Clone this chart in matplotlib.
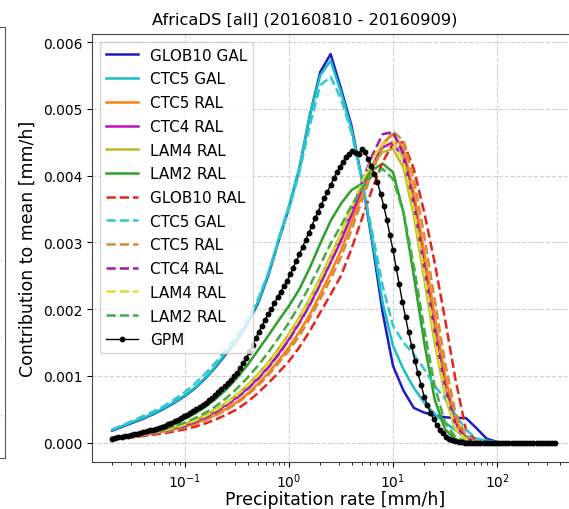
import numpy as np
import matplotlib
matplotlib.use("Agg")
import matplotlib.pyplot as plt

# ---------------- data ----------------
# model bin centres (log10 of precipitation rate, mm/h)
model_logx = [-1.7, -1.6, -1.5, -1.4, -1.3, -1.2, -1.1, -1.0, -0.9, -0.8,
              -0.7, -0.6, -0.5, -0.4, -0.3, -0.2, -0.1, 0.0, 0.1, 0.2,
              0.3, 0.4, 0.5, 0.6, 0.7, 0.8, 0.9, 1.0, 1.1, 1.2,
              1.3, 1.4, 1.5, 1.6, 1.7, 1.8, 1.9, 2.0]

glob10_gal = [0.00018, 0.00024, 0.00030, 0.00036, 0.00043, 0.00051, 0.00060, 0.00070, 0.00082, 0.00097,
              0.00114, 0.00134, 0.00153, 0.00178, 0.00208, 0.00250, 0.00302, 0.00352, 0.00410, 0.00490,
              0.00555, 0.00582, 0.00530, 0.00475, 0.00395, 0.00300, 0.00195, 0.00115, 0.00078, 0.00052,
              0.00045, 0.00041, 0.00038, 0.00037, 0.00037, 0.00022, 0.00006, 0.00001]
ctc5_gal = [0.00019, 0.00025, 0.00031, 0.00037, 0.00044, 0.00052, 0.00061, 0.00071, 0.00083, 0.00098,
            0.00115, 0.00136, 0.00154, 0.00180, 0.00210, 0.00252, 0.00305, 0.00355, 0.00412, 0.00490,
            0.00550, 0.00572, 0.00525, 0.00470, 0.00395, 0.00305, 0.00210, 0.00145, 0.00110, 0.00082,
            0.00060, 0.00043, 0.00030, 0.00019, 0.00010, 0.00006, 0.00003, 0.00001]
ctc5_ral = [0.00006, 0.00008, 0.00009, 0.00011, 0.00014, 0.00017, 0.00020, 0.00024, 0.00029, 0.00035,
            0.00042, 0.00051, 0.00061, 0.00073, 0.00088, 0.00104, 0.00123, 0.00143, 0.00166, 0.00192,
            0.00222, 0.00254, 0.00288, 0.00328, 0.00372, 0.00412, 0.00448, 0.00462, 0.00440, 0.00375,
            0.00285, 0.00190, 0.00100, 0.00035, 0.00008, 0.00002, 0.0, 0.0]
ctc4_ral = [0.00007, 0.00008, 0.00010, 0.00012, 0.00015, 0.00018, 0.00022, 0.00026, 0.00032, 0.00039,
            0.00047, 0.00057, 0.00068, 0.00081, 0.00096, 0.00113, 0.00133, 0.00155, 0.00180, 0.00207,
            0.00238, 0.00270, 0.00302, 0.00340, 0.00380, 0.00415, 0.00442, 0.00450, 0.00425, 0.00355,
            0.00260, 0.00165, 0.00080, 0.00025, 0.00005, 0.00001, 0.0, 0.0]
lam4_ral = [0.00007, 0.00008, 0.00010, 0.00013, 0.00015, 0.00019, 0.00023, 0.00028, 0.00034, 0.00041,
            0.00050, 0.00060, 0.00072, 0.00086, 0.00102, 0.00120, 0.00141, 0.00163, 0.00188, 0.00216,
            0.00247, 0.00280, 0.00313, 0.00350, 0.00385, 0.00415, 0.00435, 0.00440, 0.00412, 0.00340,
            0.00245, 0.00150, 0.00070, 0.00020, 0.00004, 0.00001, 0.0, 0.0]
lam2_ral = [0.00007, 0.00009, 0.00011, 0.00014, 0.00018, 0.00022, 0.00028, 0.00036, 0.00044, 0.00054,
            0.00066, 0.00080, 0.00097, 0.00116, 0.00138, 0.00160, 0.00183, 0.00205, 0.00230, 0.00262,
            0.00298, 0.00332, 0.00358, 0.00378, 0.00388, 0.00408, 0.00418, 0.00405, 0.00345, 0.00250,
            0.00150, 0.00065, 0.00020, 0.00005, 0.00001, 0.0, 0.0, 0.0]
glob10_ral_d = [0.00006, 0.00007, 0.00008, 0.00010, 0.00012, 0.00014, 0.00017, 0.00020, 0.00024, 0.00029,
                0.00035, 0.00042, 0.00050, 0.00061, 0.00074, 0.00089, 0.00105, 0.00122, 0.00143, 0.00167,
                0.00195, 0.00222, 0.00250, 0.00290, 0.00335, 0.00380, 0.00420, 0.00448, 0.00450, 0.00410,
                0.00345, 0.00270, 0.00185, 0.00095, 0.00020, 0.00003, 0.00001, 0.0]
ctc5_gal_d = [0.00020, 0.00026, 0.00033, 0.00040, 0.00047, 0.00055, 0.00065, 0.00076, 0.00089, 0.00104,
              0.00121, 0.00141, 0.00160, 0.00184, 0.00214, 0.00254, 0.00303, 0.00350, 0.00405, 0.00475,
              0.00535, 0.00548, 0.00515, 0.00465, 0.00395, 0.00315, 0.00235, 0.00175, 0.00150, 0.00132,
              0.00110, 0.00085, 0.00066, 0.00042, 0.00020, 0.00006, 0.00002, 0.0]
ctc5_ral_d = [0.00006, 0.00007, 0.00009, 0.00011, 0.00013, 0.00016, 0.00019, 0.00023, 0.00028, 0.00034,
              0.00041, 0.00049, 0.00059, 0.00071, 0.00085, 0.00101, 0.00119, 0.00138, 0.00160, 0.00186,
              0.00215, 0.00245, 0.00278, 0.00318, 0.00362, 0.00405, 0.00445, 0.00466, 0.00452, 0.00395,
              0.00310, 0.00215, 0.00120, 0.00045, 0.00010, 0.00002, 0.0, 0.0]
ctc4_ral_d = [0.00006, 0.00008, 0.00010, 0.00012, 0.00014, 0.00017, 0.00021, 0.00025, 0.00031, 0.00038,
              0.00046, 0.00056, 0.00067, 0.00080, 0.00095, 0.00112, 0.00132, 0.00154, 0.00179, 0.00206,
              0.00237, 0.00270, 0.00305, 0.00345, 0.00390, 0.00430, 0.00462, 0.00465, 0.00432, 0.00360,
              0.00265, 0.00170, 0.00085, 0.00028, 0.00006, 0.00001, 0.0, 0.0]
lam4_ral_d = [0.00007, 0.00008, 0.00010, 0.00012, 0.00015, 0.00018, 0.00022, 0.00027, 0.00033, 0.00040,
              0.00049, 0.00059, 0.00071, 0.00085, 0.00100, 0.00118, 0.00139, 0.00161, 0.00186, 0.00214,
              0.00245, 0.00278, 0.00312, 0.00350, 0.00390, 0.00425, 0.00448, 0.00452, 0.00422, 0.00350,
              0.00255, 0.00158, 0.00075, 0.00022, 0.00005, 0.00001, 0.0, 0.0]
lam2_ral_d = [0.00007, 0.00009, 0.00011, 0.00013, 0.00016, 0.00020, 0.00025, 0.00030, 0.00037, 0.00045,
              0.00055, 0.00067, 0.00081, 0.00097, 0.00115, 0.00135, 0.00157, 0.00180, 0.00206, 0.00235,
              0.00266, 0.00298, 0.00325, 0.00355, 0.00380, 0.00400, 0.00410, 0.00395, 0.00345, 0.00265,
              0.00170, 0.00085, 0.00030, 0.00008, 0.00002, 0.0, 0.0, 0.0]

# GPM bin centres (log10 mm/h) and values
gpm_logx = [-1.70, -1.67, -1.64, -1.61, -1.58, -1.55, -1.52, -1.49, -1.46, -1.43,
            -1.40, -1.37, -1.34, -1.31, -1.28, -1.25, -1.22, -1.19, -1.16, -1.13,
            -1.10, -1.07, -1.04, -1.01, -0.98, -0.95, -0.92, -0.89, -0.86, -0.83,
            -0.80, -0.77, -0.74, -0.71, -0.68, -0.65, -0.62, -0.59, -0.56, -0.53,
            -0.50, -0.47, -0.44, -0.41, -0.38, -0.35, -0.32, -0.29, -0.26, -0.23,
            -0.20, -0.17, -0.14, -0.11, -0.08, -0.05, -0.02, 0.01, 0.04, 0.07,
            0.10, 0.13, 0.16, 0.19, 0.22, 0.25, 0.28, 0.31, 0.34, 0.37,
            0.40, 0.43, 0.46, 0.49, 0.52, 0.55, 0.58, 0.61, 0.64, 0.67,
            0.70, 0.73, 0.76, 0.79, 0.82, 0.85, 0.88, 0.91, 0.94, 0.97,
            1.00, 1.03, 1.06, 1.09, 1.12, 1.15, 1.18, 1.21, 1.24, 1.27,
            1.30, 1.33, 1.36, 1.39, 1.42, 1.45, 1.48, 1.51, 1.54, 1.57,
            1.60, 1.63, 1.66, 1.69, 1.72, 1.75, 1.78, 1.81, 1.84, 1.87,
            1.90, 1.93, 1.96, 1.99, 2.02, 2.05, 2.08, 2.11, 2.14, 2.17,
            2.20, 2.23, 2.26, 2.29, 2.32, 2.35, 2.38, 2.41, 2.44, 2.47,
            2.50, 2.53, 2.56]
gpm = [0.000060, 0.000066, 0.000078, 0.000088, 0.000096, 0.000104, 0.000114, 0.000124, 0.000134, 0.000146,
       0.000160, 0.000172, 0.000184, 0.000196, 0.000208, 0.000220, 0.000238, 0.000256, 0.000274, 0.000296,
       0.000320, 0.000344, 0.000368, 0.000392, 0.000420, 0.000450, 0.000480, 0.000510, 0.000540, 0.000570,
       0.000600, 0.000636, 0.000672, 0.000714, 0.000756, 0.000800, 0.000848, 0.000896, 0.000944, 0.000992,
       0.00105, 0.00112, 0.00119, 0.00127, 0.00135, 0.00146, 0.00156, 0.00166, 0.00175, 0.00184,
       0.00192, 0.00200, 0.00209, 0.00218, 0.00226, 0.00234, 0.00242, 0.00252, 0.00262, 0.00272,
       0.00282, 0.00293, 0.00304, 0.00314, 0.00325, 0.00336, 0.00346, 0.00356, 0.00366, 0.00376,
       0.00386, 0.00396, 0.00405, 0.00413, 0.00421, 0.00428, 0.00433, 0.00437, 0.00434, 0.00433,
       0.00440, 0.00435, 0.00425, 0.00415, 0.00403, 0.00390, 0.00373, 0.00355, 0.00334, 0.00311,
       0.00288, 0.00262, 0.00237, 0.00211, 0.00188, 0.00165, 0.00144, 0.00123, 0.00104, 0.00086,
       0.00069, 0.00056, 0.00044, 0.00035, 0.00027, 0.00019, 0.00014, 0.00009, 0.00006, 0.00004,
       0.00002, 0.00001, 0.00001, 0.0, 0.0, 0.0, 0.0, 0.0, 0.0, 0.0,
       0.0, 0.0, 0.0, 0.0, 0.0, 0.0, 0.0, 0.0, 0.0, 0.0,
       0.0, 0.0, 0.0, 0.0, 0.0, 0.0, 0.0, 0.0, 0.0, 0.0,
       0.0, 0.0, 0.0]

series = [
    ("GLOB10 GAL", glob10_gal, "#1c1cc8", "-"),
    ("CTC5 GAL", ctc5_gal, "#17bfc4", "-"),
    ("CTC5 RAL", ctc5_ral, "#ff7f0e", "-"),
    ("CTC4 RAL", ctc4_ral, "#c010c0", "-"),
    ("LAM4 RAL", lam4_ral, "#bcbd22", "-"),
    ("LAM2 RAL", lam2_ral, "#2ca02c", "-"),
    ("GLOB10 RAL", glob10_ral_d, "#e8221c", "--"),
    ("CTC5 GAL", ctc5_gal_d, "#30c8d0", "--"),
    ("CTC5 RAL", ctc5_ral_d, "#d48a3c", "--"),
    ("CTC4 RAL", ctc4_ral_d, "#9a1ca8", "--"),
    ("LAM4 RAL", lam4_ral_d, "#e0dc30", "--"),
    ("LAM2 RAL", lam2_ral_d, "#44aa44", "--"),
]

# ---------------- figure ----------------
fig = plt.figure(figsize=(5.69, 5.10), dpi=100)

# partial neighbour panel at the left edge (cropped)
axl = fig.add_axes([-0.5, 0.1, 0.5088, 0.845])
axl.set_xticks([])
axl.set_yticks([0.1, 0.28, 0.46, 0.64, 0.82])
axl.set_ylim(0, 1)
axl.tick_params(left=False, labelleft=False)
axl.grid(True, linestyle="--", color="#e4e4e4", linewidth=0.8)
for s in axl.spines.values():
    s.set_color("#555555")

ax = fig.add_axes([92 / 569, 47 / 510, 487 / 569, 428 / 510])
mx = 10 ** np.array(model_logx)
for label, vals, col, ls in series:
    ax.plot(mx, vals, color=col, linestyle=ls, linewidth=1.8, label=label)
gx = 10 ** np.array(gpm_logx)
ax.plot(gx, gpm, color="black", marker="o", markersize=3.2, linewidth=1.0, label="GPM")

ax.set_xscale("log")
ax.set_xlim(10 ** -1.894, 10 ** 2.788)
ax.set_ylim(-0.00029, 0.00612)
ax.set_yticks([0, 0.001, 0.002, 0.003, 0.004, 0.005, 0.006])
ax.set_yticklabels(["0.000", "0.001", "0.002", "0.003", "0.004", "0.005", "0.006"])
ax.tick_params(labelsize=10)
ax.grid(True, which="major", linestyle="--", color="#d0d0d0", linewidth=0.8)
for s in ax.spines.values():
    s.set_color("#444444")

ax.set_xlabel("Precipitation rate [mm/h]", fontsize=12.5, labelpad=0)
ax.set_ylabel("Contribution to mean [mm/h]", fontsize=12.5)
fig.text(305 / 569, 1 - 20 / 510, "AfricaDS [all] (20160810 - 20160909)",
         fontsize=11.7, ha="center", va="center")

ax.legend(loc="upper left", fontsize=11, labelspacing=0.57, borderaxespad=0.5,
          handlelength=2.1, handletextpad=0.8, frameon=True)

fig.savefig("out.png", dpi=100)
